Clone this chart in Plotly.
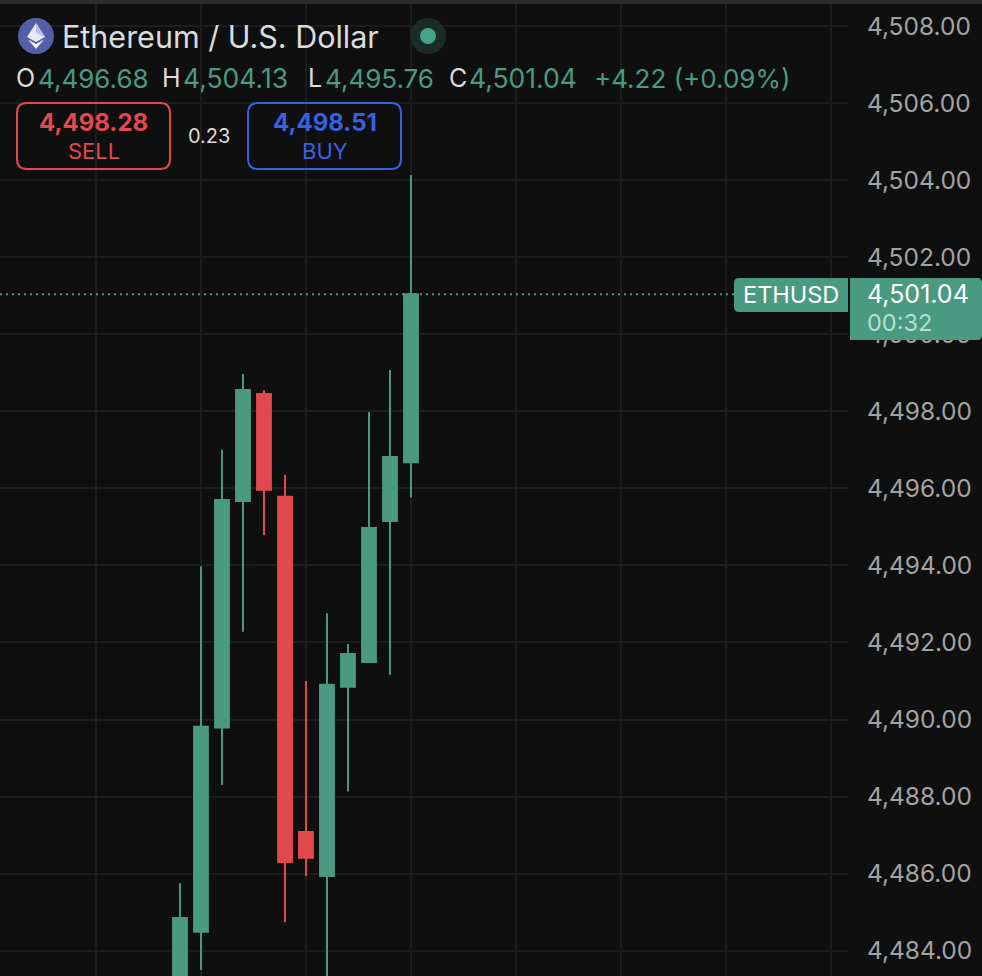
import plotly.graph_objects as go

W, H = 982, 976
PLOT_RIGHT = 848

candle_index = [0, 1, 2, 3, 4, 5, 6, 7, 8, 9, 10, 11]
opens = [4482.80, 4484.49, 4489.79, 4495.67, 4498.45, 4495.78, 4487.08, 4485.94, 4490.85, 4491.49, 4495.15, 4496.68]
highs = [4485.75, 4493.98, 4497.00, 4498.97, 4498.55, 4496.35, 4491.00, 4492.76, 4491.96, 4497.98, 4499.07, 4504.13]
lows = [4482.50, 4483.50, 4488.30, 4492.28, 4494.79, 4484.74, 4485.94, 4483.20, 4488.13, 4491.49, 4491.16, 4495.76]
closes = [4484.85, 4489.81, 4495.70, 4498.55, 4495.96, 4486.30, 4486.41, 4490.90, 4491.70, 4494.97, 4496.81, 4501.04]

y_range = [4483.343, 4508.674]
x_range = [-8.571, 31.81]

GREEN = '#4a9a81'
RED = '#e2494f'
BLUE = '#3a60e2'
BG = '#0f0f0f'
GRID = '#1d1d1d'
FONT = 'Inter'


def px(x):
    return x / W


def py(y):
    return 1 - y / H


def round_rect(x0, y0, x1, y1, tl=0, tr=0, br=0, bl=0):
    # svg path in paper coords, corners given in pixels
    pts = [
        f'M {px(x0 + tl)},{py(y0)}',
        f'L {px(x1 - tr)},{py(y0)}',
        f'Q {px(x1)},{py(y0)} {px(x1)},{py(y0 + tr)}',
        f'L {px(x1)},{py(y1 - br)}',
        f'Q {px(x1)},{py(y1)} {px(x1 - br)},{py(y1)}',
        f'L {px(x0 + bl)},{py(y1)}',
        f'Q {px(x0)},{py(y1)} {px(x0)},{py(y1 - bl)}',
        f'L {px(x0)},{py(y0 + tl)}',
        f'Q {px(x0)},{py(y0)} {px(x0 + tl)},{py(y0)} Z',
    ]
    return ' '.join(pts)


def poly(points):
    return 'M ' + ' L '.join(f'{px(a)},{py(b)}' for a, b in points) + ' Z'


def box(path, fill='rgba(0,0,0,0)', line=None, width=0):
    return dict(type='path', xref='paper', yref='paper', path=path, fillcolor=fill,
                line=dict(color=line or 'rgba(0,0,0,0)', width=width), layer='above')


def circle(cx, cy, r, fill):
    return dict(type='circle', xref='paper', yref='paper', x0=px(cx - r), x1=px(cx + r),
                y0=py(cy + r), y1=py(cy - r), fillcolor=fill, line=dict(width=0), layer='above')


def label(text, x, y, size, color, anchor='left', weight=400):
    return dict(text=text, x=px(x), y=py(y), xref='paper', yref='paper', showarrow=False,
                xanchor=anchor, yanchor='middle', xshift=-3 if anchor == 'left' else 0,
                font=dict(family=FONT, size=size, color=color, weight=weight))


fig = go.Figure()
fig.add_trace(go.Candlestick(
    x=candle_index, open=opens, high=highs, low=lows, close=closes,
    increasing=dict(line=dict(color=GREEN, width=2), fillcolor=GREEN),
    decreasing=dict(line=dict(color=RED, width=2), fillcolor=RED),
    whiskerwidth=0, showlegend=False, hoverinfo='skip',
))

shapes = [
    # top edge of the panel
    dict(type='rect', xref='paper', yref='paper', x0=0, x1=1, y0=py(4), y1=1,
         fillcolor='#2b2b2b', line=dict(width=0), layer='above'),
    # last price line
    dict(type='line', xref='paper', yref='y', x0=0, x1=px(734), y0=closes[-1], y1=closes[-1],
         line=dict(color=GREEN, width=2, dash='2px 4px'), layer='above'),
    box(round_rect(734, 278, 848, 312, tl=5, bl=5), fill=GREEN),
    box(round_rect(850, 278, 982, 340, tr=5, br=5), fill=GREEN),
    box(round_rect(17, 103, 170, 169, 10, 10, 10, 10), line=RED, width=2),
    box(round_rect(248, 103, 401, 169, 10, 10, 10, 10), line=BLUE, width=2),
    # logo and status dot
    circle(36, 36, 18, '#525fa6'),
    box(poly([(36, 23), (45, 37), (36, 42), (27, 37)]), fill='#e6e9f6'),
    box(poly([(36, 23), (45, 37), (36, 33)]), fill='#b9c0e4'),
    box(poly([(28, 39.5), (36, 44), (44, 39.5), (36, 49)]), fill='#eef0fa'),
    circle(428, 36, 18, '#1b2b27'),
    circle(428, 36, 8, '#45a386'),
]

annotations = [
    label('Ethereum / U.S. Dollar', 63, 37, 30.5, '#dcdcdc'),
    label('O', 17, 78, 25, '#dcdcdc'),
    label('4,496.68', 39, 78, 26, GREEN),
    label('H', 163, 78, 25, '#dcdcdc'),
    label('4,504.13', 184, 78, 26.5, GREEN),
    label('L', 309, 78, 25, '#dcdcdc'),
    label('4,495.76', 326, 78, 26, GREEN),
    label('C', 450, 78, 25, '#dcdcdc'),
    label('4,501.04', 470, 78, 26.5, GREEN),
    label('+4.22 (+0.09%)', 595, 78, 26, GREEN),
    label('4,498.28', 93.5, 123, 24, RED, 'center', 700),
    label('SELL', 93.5, 151, 22, RED, 'center'),
    label('0.23', 209, 136, 20, '#dcdcdc', 'center'),
    label('4,498.51', 324.5, 123, 24, BLUE, 'center', 700),
    label('BUY', 324.5, 151, 22, BLUE, 'center'),
    label('ETHUSD', 791, 294, 23.5, '#ffffff', 'center'),
    label('4,501.04', 868, 294, 25, '#ffffff'),
    label('00:32', 868, 322, 23.5, '#b5dfd0'),
]

fig.update_layout(
    width=W, height=H,
    margin=dict(l=0, r=0, t=0, b=0),
    paper_bgcolor=BG, plot_bgcolor=BG,
    showlegend=False,
    boxgap=0.06,
    shapes=shapes,
    annotations=annotations,
    xaxis=dict(domain=[0, PLOT_RIGHT / W], range=x_range, type='linear', rangeslider=dict(visible=False),
               tick0=1, dtick=5, showticklabels=False, ticks='', gridcolor=GRID, gridwidth=2,
               zeroline=False, showline=False),
    yaxis=dict(side='right', range=y_range, type='linear', tick0=4484, dtick=2, tickformat=',.2f',
               ticks='outside', ticklen=13, tickcolor='rgba(0,0,0,0)', gridcolor=GRID, gridwidth=2,
               tickfont=dict(family=FONT, size=24.5, color='#a3a3a3'), zeroline=False, showline=False),
)

fig.write_html('out.html', config={'displayModeBar': False},
               post_script="document.body.style.margin='0';document.body.style.overflow='hidden';document.body.style.background='#0f0f0f';")
